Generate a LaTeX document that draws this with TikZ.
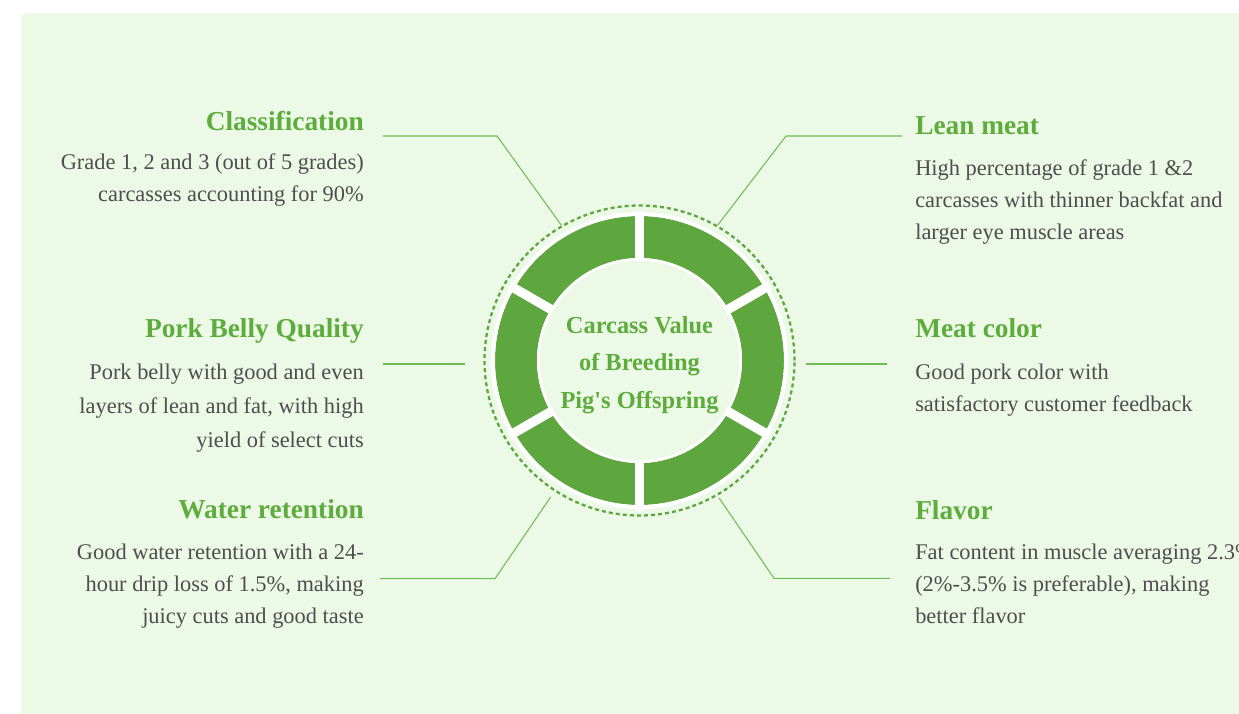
\documentclass[tikz,border=0pt]{standalone}
\usepackage{fontspec}
\setmainfont{Liberation Serif}
\usetikzlibrary{calc}
\definecolor{bgcol}{RGB}{235,249,230}
\definecolor{ringcol}{RGB}{94,166,62}
\definecolor{headcol}{RGB}{93,172,60}
\definecolor{linkcol}{RGB}{112,190,82}
\definecolor{textcol}{RGB}{78,78,78}

\begin{document}
\begin{tikzpicture}[
  x=0.75pt, y=-0.75pt,
  head/.style={font=\fontsize{20.5}{24}\selectfont\bfseries, text=headcol, inner sep=0pt},
  body/.style={font=\fontsize{16.8}{24}\selectfont, text=textcol, inner sep=0pt},
  link/.style={linkcol, line width=0.8pt},
  hub/.style={circle, draw=ringcol, line width=1.7pt, dash pattern=on 3pt off 2.3pt,
    minimum size=232.5pt, inner sep=0pt}
]
  \useasboundingbox (0,0) rectangle (1239,714);
  \clip (0,0) rectangle (1239,714);
  \fill[bgcol, rounded corners=4pt] (21,13) rectangle (1270,740);

  % ring of six segments
  \coordinate (c) at (639.5,360.5);
  \fill[ringcol, even odd rule] (c) circle (144.5) (c) circle (102.5);
  \draw[white, line width=3pt] (c) circle (146.5);
  \draw[white, line width=2.3pt] (c) circle (101);
  \foreach \a in {30,90,...,330}
    \draw[white, line width=7pt] (c) ++(\a:96) -- ++(\a:54);
  \fill[bgcol] (c) circle (99.5);
  \node[hub] (hub) at (c) {};
  \node[align=center, text=headcol, font=\fontsize{18.3}{28}\selectfont\bfseries] (hub-txt) at (639.5,365)
    {Carcass Value\\of Breeding\\Pig\textquotesingle s Offspring};

  % left column
  \node[head, anchor=base east] (cls) at (364,130) {Classification};
  \node[body, anchor=north east, align=right] (cls-txt) at (364,153)
    {Grade 1, 2 and 3 (out of 5 grades)\\carcasses accounting for 90\%};
  \node[head, anchor=base east] (belly) at (364,337) {Pork Belly Quality};
  \node[body, anchor=north east, align=right, font=\fontsize{16.8}{25.5}\selectfont] (belly-txt) at (364,364)
    {Pork belly with good and even\\layers of lean and fat, with high\\yield of select cuts};
  \node[head, anchor=base east] (water) at (364,518) {Water retention};
  \node[body, anchor=north east, align=right] (water-txt) at (364,544)
    {Good water retention with a 24-\\hour drip loss of 1.5\%, making\\juicy cuts and good taste};

  % right column
  \node[head, anchor=base west] (lean) at (915,134) {Lean meat};
  \node[body, anchor=north west, align=left] (lean-txt) at (915,159)
    {High percentage of grade 1 \&2\\carcasses with thinner backfat and\\larger eye muscle areas};
  \node[head, anchor=base west] (color) at (915,337) {Meat color};
  \node[body, anchor=north west, align=left] (color-txt) at (915,364)
    {Good pork color with\\satisfactory customer feedback};
  \node[head, anchor=base west] (flavor) at (915,519) {Flavor};
  \node[body, anchor=north west, align=left] (flavor-txt) at (915,544)
    {Fat content in muscle averaging 2.3\%\\(2\%-3.5\% is preferable), making\\better flavor};

  % connectors
  \coordinate (cls-end) at (383,136);
  \coordinate (lean-end) at (902,136);
  \coordinate (belly-end) at (383,364);
  \coordinate (color-end) at (887,364);
  \coordinate (water-end) at (380,578.7);
  \coordinate (flavor-end) at (890,578.3);
  \draw[link] (cls-end) -- (497,136) -- (hub.120);
  \draw[link] (lean-end) -- (786,136) -- (hub.60);
  \draw[link, shorten >=14pt] (belly-end) -- (belly-end -| hub.west);
  \draw[link, shorten >=8pt] (color-end) -- (color-end -| hub.east);
  \draw[link, shorten >=5pt] (water-end) -- (495,578.7) -- (hub.237);
  \draw[link, shorten >=2pt] (flavor-end) -- (774,578.3) -- (hub.-60);
\end{tikzpicture}
\end{document}
